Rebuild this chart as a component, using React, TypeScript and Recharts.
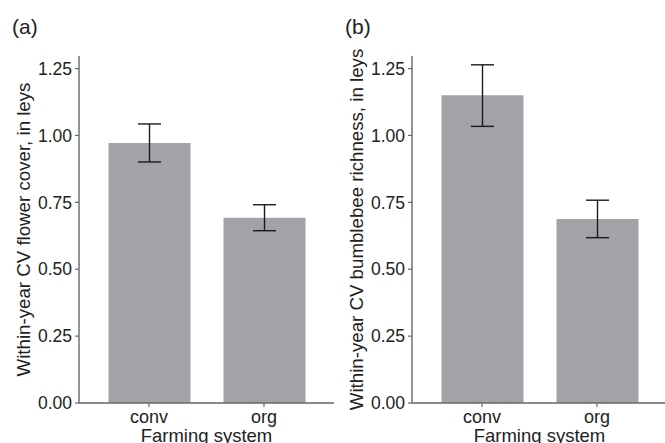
import React from "react";
import {
  BarChart,
  Bar,
  XAxis,
  YAxis,
  ErrorBar,
  Label,
} from "recharts";

const categories = ["conv", "org"];

const flowerMean = [0.972, 0.692];
const flowerLow = [0.901, 0.644];
const flowerHigh = [1.043, 0.741];

const beeMean = [1.15, 0.688];
const beeLow = [1.034, 0.618];
const beeHigh = [1.264, 0.758];

const yTicks = [0, 0.25, 0.5, 0.75, 1.0, 1.25];

const FONT = "'Liberation Sans', Arial, Helvetica, sans-serif";
const TEXT = "#222";
const AXIS = "#666";
const BAR = "#a2a3a7";

function buildRows(mean: number[], low: number[], high: number[]) {
  return categories.map((c, i) => ({
    name: c,
    value: mean[i],
    err: [mean[i] - low[i], high[i] - mean[i]],
  }));
}

const XTick = (props: any) => {
  const { x, y, payload } = props;
  return (
    <text x={x} y={y + 14} textAnchor="middle" fontSize={18} fill={TEXT} fontFamily={FONT}>
      {payload.value}
    </text>
  );
};

function Panel({
  tag,
  yTitle,
  rows,
  left,
  width,
}: {
  tag: string;
  yTitle: string;
  rows: any[];
  left: number;
  width: number;
}) {
  return (
    <div style={{ position: "absolute", left, top: 0, width, height: 443 }}>
      <div
        style={{
          position: "absolute",
          left: 12,
          top: 15,
          fontSize: 21,
          fontFamily: FONT,
          color: TEXT,
          lineHeight: "24px",
        }}
      >
        {tag}
      </div>
      <BarChart
        width={width}
        height={443}
        data={rows}
        margin={{ top: 56, right: 0, bottom: 20, left: 0 }}
        barSize={82}
      >
        <XAxis
          dataKey="name"
          height={20}
          padding={{ left: 12.5, right: 12.5 }}
          axisLine={{ stroke: AXIS, strokeWidth: 1.4 }}
          tickLine={{ stroke: AXIS, strokeWidth: 1.2 }}
          tickSize={4}
          tickMargin={2}
          tick={<XTick />}
        >
          <Label
            content={(p: any) => {
              const vb = p.viewBox;
              return (
                <text
                  x={vb.x + vb.width / 2}
                  y={vb.y + 39}
                  textAnchor="middle"
                  fontSize={18.5}
                  fill={TEXT}
                  fontFamily={FONT}
                >
                  Farming system
                </text>
              );
            }}
          />
        </XAxis>
        <YAxis
          width={79}
          domain={[0, 1.297]}
          ticks={yTicks}
          allowDataOverflow
          tickFormatter={(v: number) => v.toFixed(2)}
          axisLine={{ stroke: AXIS, strokeWidth: 1.4 }}
          tickLine={{ stroke: AXIS, strokeWidth: 1.2 }}
          tickSize={4}
          tickMargin={3}
          tick={{ fill: TEXT, fontSize: 17.5, fontFamily: FONT }}
        >
          <Label
            content={(p: any) => {
              const vb = p.viewBox;
              const cx = vb.x + 23;
              const cy = vb.y + vb.height / 2;
              return (
                <text
                  x={cx}
                  y={cy}
                  transform={`rotate(-90 ${cx} ${cy})`}
                  textAnchor="middle"
                  dominantBaseline="central"
                  fontSize={18.7}
                  fill={TEXT}
                  fontFamily={FONT}
                >
                  {yTitle}
                </text>
              );
            }}
          />
        </YAxis>
        <Bar dataKey="value" fill={BAR} isAnimationActive={false}>
          <ErrorBar dataKey="err" width={11.5} stroke="#1a1a1a" strokeWidth={1.4} direction="y" />
        </Bar>
      </BarChart>
    </div>
  );
}

export default function App() {
  return (
    <div
      style={{
        position: "absolute",
        left: 0,
        top: 0,
        width: 665,
        height: 443,
        background: "#fff",
        overflow: "hidden",
      }}
    >
      <Panel
        tag="(a)"
        yTitle="Within-year CV flower cover, in leys"
        rows={buildRows(flowerMean, flowerLow, flowerHigh)}
        left={0}
        width={334}
      />
      <Panel
        tag="(b)"
        yTitle="Within-year CV bumblebee richness, in leys"
        rows={buildRows(beeMean, beeLow, beeHigh)}
        left={333}
        width={334}
      />
    </div>
  );
}
